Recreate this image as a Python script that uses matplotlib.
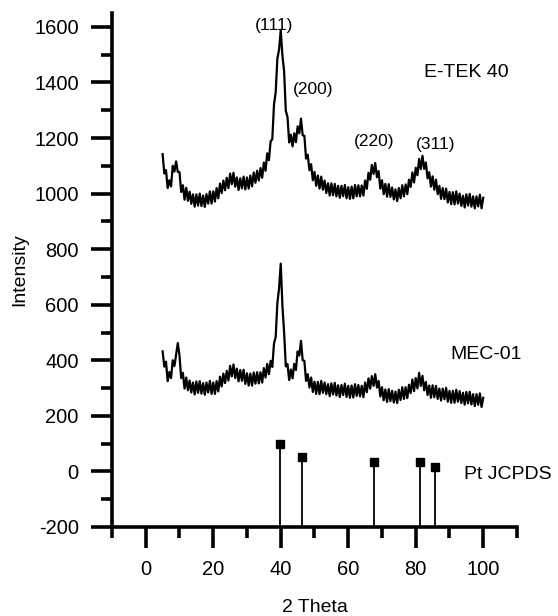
import numpy as np
import matplotlib
matplotlib.use("Agg")
import matplotlib.pyplot as plt
from matplotlib.ticker import MultipleLocator

plt.rcParams['font.family'] = ['Liberation Sans', 'DejaVu Sans']
plt.rcParams['axes.unicode_minus'] = False

# 2-theta grid (degrees) for the measured patterns
two_theta_start = 5.0
two_theta_step = 0.5

# E-TEK 40 pattern (5.0 .. 100.0 every 0.5 deg)
etek40 = [
    1142, 1072, 1085, 1020, 1048, 1026, 1100, 1079, 1116, 1078,
    1078, 1006, 1030, 978, 1021, 974, 1007, 963, 997, 953,
    997, 957, 1000, 955, 993, 952, 998, 964, 1008, 964,
    1008, 971, 1020, 983, 1036, 1002, 1047, 1012, 1057, 1020,
    1072, 1034, 1075, 1025, 1058, 1013, 1055, 1019, 1061, 1015,
    1058, 1018, 1065, 1026, 1076, 1039, 1082, 1047, 1092, 1057,
    1112, 1082, 1145, 1120, 1188, 1196, 1320, 1364, 1486, 1518,
    1588, 1496, 1440, 1298, 1276, 1184, 1212, 1170, 1217, 1185,
    1242, 1217, 1270, 1210, 1208, 1126, 1140, 1084, 1106, 1048,
    1078, 1028, 1065, 1018, 1061, 1014, 1047, 1002, 1037, 993,
    1037, 994, 1035, 990, 1028, 985, 1028, 991, 1031, 983,
    1023, 981, 1025, 983, 1031, 990, 1030, 990, 1029, 993,
    1047, 1017, 1075, 1050, 1103, 1071, 1110, 1059, 1081, 1018,
    1048, 998, 1035, 989, 1034, 988, 1022, 979, 1015, 973,
    1020, 983, 1030, 990, 1033, 998, 1050, 1024, 1076, 1040,
    1093, 1066, 1125, 1088, 1136, 1089, 1112, 1055, 1077, 1025,
    1062, 1014, 1050, 998, 1028, 981, 1020, 980, 1018, 968,
    1006, 962, 1005, 961, 1008, 964, 1000, 956, 992, 950,
    997, 957, 999, 953, 990, 947, 990, 954, 996, 947,
    985,
]

# MEC-01 pattern (5.0 .. 100.0 every 0.5 deg)
mec01 = [
    432, 377, 395, 325, 358, 336, 400, 379, 420, 462,
    418, 336, 355, 298, 338, 292, 327, 284, 320, 277,
    324, 283, 325, 280, 318, 276, 320, 284, 326, 279,
    320, 279, 325, 288, 341, 306, 352, 318, 362, 327,
    380, 342, 385, 336, 370, 324, 365, 326, 366, 315,
    353, 309, 352, 309, 356, 316, 357, 317, 357, 320,
    372, 338, 387, 350, 398, 376, 460, 484, 606, 658,
    748, 596, 500, 378, 386, 329, 367, 335, 387, 365,
    432, 417, 470, 400, 398, 326, 350, 302, 338, 286,
    323, 279, 322, 278, 326, 283, 320, 278, 314, 271,
    317, 277, 319, 273, 310, 268, 311, 275, 316, 268,
    308, 265, 309, 266, 314, 272, 311, 270, 308, 267,
    320, 285, 335, 298, 343, 308, 350, 302, 326, 270,
    303, 256, 295, 250, 296, 253, 290, 248, 287, 246,
    294, 257, 303, 261, 303, 264, 312, 282, 331, 289,
    336, 299, 355, 308, 344, 292, 322, 275, 309, 265,
    310, 267, 308, 261, 298, 255, 298, 260, 301, 251,
    290, 247, 290, 247, 294, 251, 289, 246, 283, 240,
    286, 245, 287, 241, 278, 235, 278, 240, 281, 232,
    265,
]

# Pt JCPDS reference lines
pt_angles = [39.8, 46.2, 67.5, 81.3, 85.7]
pt_heights = [100, 53, 33, 33, 15]

# Miller index labels
hkl_labels = ['(111)', '(200)', '(220)', '(311)']
hkl_x = [38.1, 49.7, 67.6, 86.0]
hkl_y = [1604, 1374, 1187, 1176]

x_ticks = [0, 20, 40, 60, 80, 100]
y_ticks = [-200, 0, 200, 400, 600, 800, 1000, 1200, 1400, 1600]

two_theta = two_theta_start + two_theta_step * np.arange(len(etek40))

fig = plt.figure(figsize=(5.58, 6.16), dpi=100)
ax = fig.add_axes([0.2007, 0.1445, 0.7258, 0.8344])

ax.plot(two_theta, etek40, color='black', lw=1.6)
ax.plot(two_theta, mec01, color='black', lw=1.6)

ymin = -200
ax.vlines(pt_angles, ymin, pt_heights, color='black', lw=1.3)
ax.plot(pt_angles, pt_heights, 's', color='black', ms=6)

for t, x, y in zip(hkl_labels, hkl_x, hkl_y):
    ax.text(x, y, t, ha='center', va='center', fontsize=12.5)

ax.text(95, 1435, 'E-TEK 40', ha='center', va='center', fontsize=14)
ax.text(100.9, 421, 'MEC-01', ha='center', va='center', fontsize=14)
ax.text(94.3, -10, 'Pt JCPDS', ha='left', va='center', fontsize=14,
        clip_on=False)

ax.set_xlim(-10, 110)
ax.set_ylim(-200, 1650)
ax.set_xticks(x_ticks)
ax.set_yticks(y_ticks)
ax.xaxis.set_minor_locator(MultipleLocator(10))
ax.yaxis.set_minor_locator(MultipleLocator(100))

for s in ['top', 'right']:
    ax.spines[s].set_visible(False)
for s in ['left', 'bottom']:
    ax.spines[s].set_linewidth(2.6)

ax.tick_params(which='major', direction='out', length=15, width=2.6,
               labelsize=14.5, pad=9)
ax.tick_params(which='minor', direction='out', length=8, width=2.6)

ax.set_xlabel('2 Theta', fontsize=14, labelpad=14)
ax.set_ylabel('Intensity', fontsize=14, labelpad=4)

fig.savefig('out.png', dpi=100)
